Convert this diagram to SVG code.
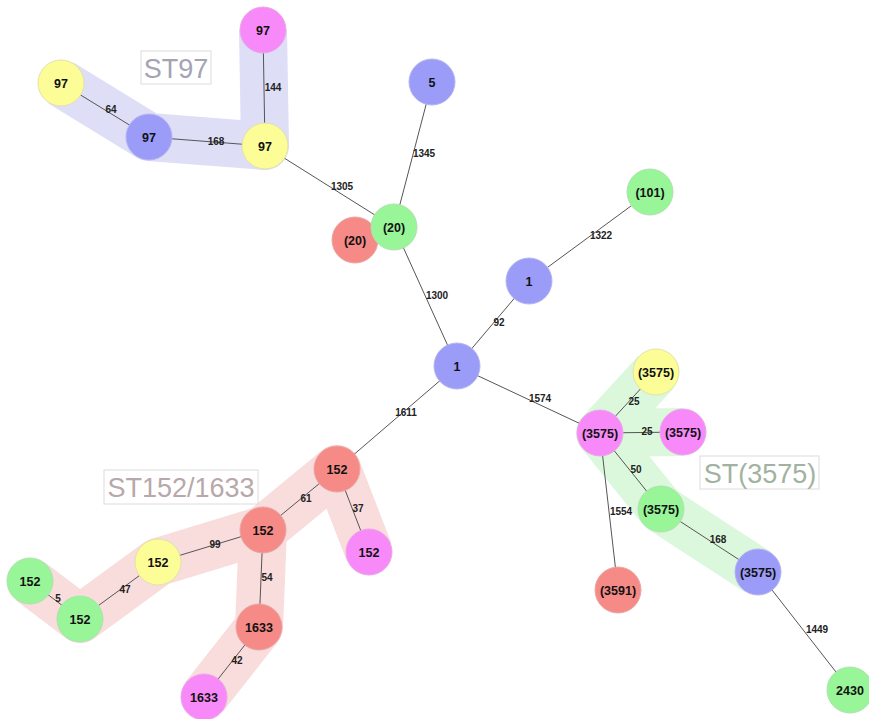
<svg xmlns="http://www.w3.org/2000/svg" width="869" height="719" viewBox="0 0 869 719">
<style>
.band{fill:none;stroke-width:48;stroke-linejoin:round;stroke-linecap:butt}
.e{stroke:#555;stroke-width:1;fill:none}
.el{font-family:"Liberation Sans",Arial,sans-serif;font-size:10px;font-weight:bold;fill:#222;text-anchor:middle}
.nl{font-family:"Liberation Sans",Arial,sans-serif;font-size:12.5px;font-weight:bold;fill:#111;text-anchor:middle}
.blue{fill:#9b9bf8;stroke:#b4b4f0}
.yellow{fill:#fdfd98;stroke:#e2e2a8}
.pink{fill:#f78af8;stroke:#e8a6e8}
.green{fill:#98f598;stroke:#b0e0b0}
.red{fill:#f68a86;stroke:#e8a6a4}
.box{fill:#fff;fill-opacity:0.6;stroke:#dcdcdc;stroke-width:1}
.big{font-family:"Liberation Sans",Arial,sans-serif;font-size:27px;text-anchor:middle}
</style>
<rect width="869" height="719" fill="#fff"/>
<g id="bands">
<path class="band" stroke="#dedef7" d="M61,83 L149,137 L265,146 L263,30"/>
<path class="band" stroke="#dcf8dc" d="M656,372 L600,433 L661,509 L758,572 M600,433 L683,432"/>
<path class="band" stroke="#f9dcdc" d="M30,581 L80,619 L158,562 L263,530 L337,469 L369,552 M263,530 L259,627 L204,697"/>
</g>
<g id="connectors">
<line class="e" x1="61" y1="83" x2="149" y2="137"/>
<line class="e" x1="149" y1="137" x2="265" y2="146"/>
<line class="e" x1="263" y1="30" x2="265" y2="146"/>
<line class="e" x1="265" y1="146" x2="394" y2="227"/>
<line class="e" x1="432" y1="82" x2="394" y2="227"/>
<line class="e" x1="394" y1="227" x2="457" y2="366"/>
<line class="e" x1="457" y1="366" x2="529" y2="281"/>
<line class="e" x1="529" y1="281" x2="650" y2="192"/>
<line class="e" x1="457" y1="366" x2="600" y2="433"/>
<line class="e" x1="600" y1="433" x2="656" y2="372"/>
<line class="e" x1="600" y1="433" x2="683" y2="432"/>
<line class="e" x1="600" y1="433" x2="661" y2="509"/>
<line class="e" x1="600" y1="433" x2="618" y2="590"/>
<line class="e" x1="661" y1="509" x2="758" y2="572"/>
<line class="e" x1="758" y1="572" x2="850" y2="690"/>
<line class="e" x1="457" y1="366" x2="337" y2="469"/>
<line class="e" x1="337" y1="469" x2="263" y2="530"/>
<line class="e" x1="337" y1="469" x2="369" y2="552"/>
<line class="e" x1="263" y1="530" x2="158" y2="562"/>
<line class="e" x1="158" y1="562" x2="80" y2="619"/>
<line class="e" x1="80" y1="619" x2="30" y2="581"/>
<line class="e" x1="263" y1="530" x2="259" y2="627"/>
<line class="e" x1="259" y1="627" x2="204" y2="697"/>
<text class="el" x="111" y="113">64</text>
<text class="el" x="216" y="145">168</text>
<text class="el" x="273" y="91">144</text>
<text class="el" x="342" y="190">1305</text>
<text class="el" x="424" y="157">1345</text>
<text class="el" x="437" y="299">1300</text>
<text class="el" x="499" y="326">92</text>
<text class="el" x="601" y="239">1322</text>
<text class="el" x="540" y="402">1574</text>
<text class="el" x="634" y="405">25</text>
<text class="el" x="647" y="435">25</text>
<text class="el" x="636" y="473">50</text>
<text class="el" x="621" y="515">1554</text>
<text class="el" x="718" y="543">168</text>
<text class="el" x="817" y="633">1449</text>
<text class="el" x="406" y="416">1611</text>
<text class="el" x="306" y="502">61</text>
<text class="el" x="358" y="512">37</text>
<text class="el" x="215" y="548">99</text>
<text class="el" x="125" y="593">47</text>
<text class="el" x="58" y="602">5</text>
<text class="el" x="267" y="581">54</text>
<text class="el" x="237" y="664">42</text>
</g>
<g id="labels">
<rect class="box" x="141" y="51" width="70" height="33"/>
<text class="big" x="176" y="78" fill="#a4a4b4">ST97</text>
<rect class="box" x="104" y="470" width="154" height="34"/>
<text class="big" x="181" y="497" fill="#b8a8aa">ST152/1633</text>
<rect class="box" x="700" y="456" width="119" height="33"/>
<text class="big" x="760" y="483" fill="#a2b2a2">ST(3575)</text>
</g>
<g id="n_y97a"><circle class="yellow" cx="61" cy="83" r="23"/><text class="nl" x="61" y="87.5">97</text></g>
<g id="n_b97"><circle class="blue" cx="149" cy="137" r="23"/><text class="nl" x="149" y="141.5">97</text></g>
<g id="n_y97b"><circle class="yellow" cx="265" cy="146" r="23"/><text class="nl" x="265" y="150.5">97</text></g>
<g id="n_p97"><circle class="pink" cx="263" cy="30" r="23"/><text class="nl" x="263" y="34.5">97</text></g>
<g id="n_b5"><circle class="blue" cx="432" cy="82" r="23"/><text class="nl" x="432" y="86.5">5</text></g>
<g id="n_r20"><circle class="red" cx="355" cy="240" r="23"/><text class="nl" x="355" y="244.5">(20)</text></g>
<g id="n_g20"><circle class="green" cx="394" cy="227" r="23"/><text class="nl" x="394" y="231.5">(20)</text></g>
<g id="n_g101"><circle class="green" cx="650" cy="192" r="23"/><text class="nl" x="650" y="196.5">(101)</text></g>
<g id="n_b1a"><circle class="blue" cx="529" cy="281" r="23"/><text class="nl" x="529" y="285.5">1</text></g>
<g id="n_b1"><circle class="blue" cx="457" cy="366" r="23"/><text class="nl" x="457" y="370.5">1</text></g>
<g id="n_y3575"><circle class="yellow" cx="656" cy="372" r="23"/><text class="nl" x="656" y="376.5">(3575)</text></g>
<g id="n_p3575a"><circle class="pink" cx="600" cy="433" r="23"/><text class="nl" x="600" y="437.5">(3575)</text></g>
<g id="n_p3575b"><circle class="pink" cx="683" cy="432" r="23"/><text class="nl" x="683" y="436.5">(3575)</text></g>
<g id="n_g3575"><circle class="green" cx="661" cy="509" r="23"/><text class="nl" x="661" y="513.5">(3575)</text></g>
<g id="n_b3575"><circle class="blue" cx="758" cy="572" r="23"/><text class="nl" x="758" y="576.5">(3575)</text></g>
<g id="n_r3591"><circle class="red" cx="618" cy="590" r="23"/><text class="nl" x="618" y="594.5">(3591)</text></g>
<g id="n_g2430"><circle class="green" cx="850" cy="690" r="23"/><text class="nl" x="850" y="694.5">2430</text></g>
<g id="n_r152a"><circle class="red" cx="337" cy="469" r="23"/><text class="nl" x="337" y="473.5">152</text></g>
<g id="n_r152b"><circle class="red" cx="263" cy="530" r="23"/><text class="nl" x="263" y="534.5">152</text></g>
<g id="n_p152"><circle class="pink" cx="369" cy="552" r="23"/><text class="nl" x="369" y="556.5">152</text></g>
<g id="n_y152"><circle class="yellow" cx="158" cy="562" r="23"/><text class="nl" x="158" y="566.5">152</text></g>
<g id="n_g152a"><circle class="green" cx="30" cy="581" r="23"/><text class="nl" x="30" y="585.5">152</text></g>
<g id="n_g152b"><circle class="green" cx="80" cy="619" r="23"/><text class="nl" x="80" y="623.5">152</text></g>
<g id="n_r1633"><circle class="red" cx="259" cy="627" r="23"/><text class="nl" x="259" y="631.5">1633</text></g>
<g id="n_p1633"><circle class="pink" cx="204" cy="697" r="23"/><text class="nl" x="204" y="701.5">1633</text></g>
</svg>
